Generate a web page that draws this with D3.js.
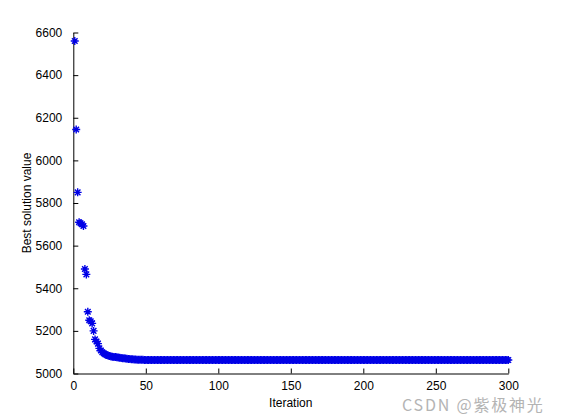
<!DOCTYPE html>
<html><head><meta charset="utf-8">
<script src="https://cdn.jsdelivr.net/npm/d3@7"></script>
<style>body{margin:0;background:#fff}svg{display:block}</style>
</head><body>
<svg id="c" width="561" height="420"></svg>
<script>
// Best solution value per iteration (1..300)
const headValues = [6560,6145,5850,5710,5705,5700,5692,5490,5465,5290,
  5250,5245,5235,5200,5160,5150,5140,5118,5108,5100,
  5095,5090,5087,5084,5082,5080,5079,5078,5077,5076,
  5075,5074,5073,5072,5071,5070,5069,5068,5068,5067,
  5067,5066,5066,5065,5065,5064,5064,5064,5063,5063];
const tailValues = [
  5063,5063,5063,5063,5063,5063,5063,5063,5063,5063,5063,5063,5063,5063,5063,5063,5063,5063,5063,5063,
  5063,5063,5063,5063,5063,5063,5063,5063,5063,5063,5063,5063,5063,5063,5063,5063,5063,5063,5063,5063,
  5063,5063,5063,5063,5063,5063,5063,5063,5063,5063,5063,5063,5063,5063,5063,5063,5063,5063,5063,5063,
  5063,5063,5063,5063,5063,5063,5063,5063,5063,5063,5063,5063,5063,5063,5063,5063,5063,5063,5063,5063,
  5063,5063,5063,5063,5063,5063,5063,5063,5063,5063,5063,5063,5063,5063,5063,5063,5063,5063,5063,5063,
  5063,5063,5063,5063,5063,5063,5063,5063,5063,5063,5063,5063,5063,5063,5063,5063,5063,5063,5063,5063,
  5063,5063,5063,5063,5063,5063,5063,5063,5063,5063,5063,5063,5063,5063,5063,5063,5063,5063,5063,5063,
  5063,5063,5063,5063,5063,5063,5063,5063,5063,5063,5063,5063,5063,5063,5063,5063,5063,5063,5063,5063,
  5063,5063,5063,5063,5063,5063,5063,5063,5063,5063,5063,5063,5063,5063,5063,5063,5063,5063,5063,5063,
  5063,5063,5063,5063,5063,5063,5063,5063,5063,5063,5063,5063,5063,5063,5063,5063,5063,5063,5063,5063,
  5063,5063,5063,5063,5063,5063,5063,5063,5063,5063,5063,5063,5063,5063,5063,5063,5063,5063,5063,5063,
  5063,5063,5063,5063,5063,5063,5063,5063,5063,5063,5063,5063,5063,5063,5063,5063,5063,5063,5063,5063,
  5063,5063,5063,5063,5063,5063,5063,5063,5063,5063,5063,5063,5063,5063,5063,5063,5063,5063,5063,5063];
const values = headValues.concat(tailValues).slice(0,300);
const xTicks = [0,50,100,150,200,250,300];
const yTicks = [5000,5200,5400,5600,5800,6000,6200,6400,6600];
const xLabel = "Iteration";
const yLabel = "Best solution value";
const watermark = "CSDN @紫极神光";

const svg = d3.select("#c");
const L = 73.3, R = 508.3, T = 32.5, B = 373.5;
const x = d3.scaleLinear().domain([0,300]).range([L,R]);
const y = d3.scaleLinear().domain([5000,6600]).range([B,T]);
const font = "'Liberation Sans', Arial, sans-serif";
const fmt = d3.format("d");

const xAxis = svg.append("g").attr("transform",`translate(0,${B})`)
  .call(d3.axisBottom(x).tickValues(xTicks).tickFormat(fmt).tickSizeInner(-5).tickSizeOuter(0).tickPadding(8));
const yAxis = svg.append("g").attr("transform",`translate(${L},0)`)
  .call(d3.axisLeft(y).tickValues(yTicks).tickFormat(fmt).tickSizeInner(-5).tickSizeOuter(0).tickPadding(11));
[xAxis,yAxis].forEach(a=>{
  a.selectAll("path.domain").attr("stroke","#000").attr("stroke-width",1);
  a.selectAll(".tick line").attr("stroke","#000");
  a.selectAll("text").attr("font-family",font).attr("font-size",12).attr("fill","#000");
});

// star markers (MATLAB '*')
const s = 4;
const star = `M${-s},0L${s},0M0,${-s}L0,${s}M${-s*0.7},${-s*0.7}L${s*0.7},${s*0.7}M${-s*0.7},${s*0.7}L${s*0.7},${-s*0.7}`;
svg.append("g").selectAll("path").data(values).join("path")
  .attr("transform",(d,i)=>`translate(${x(i+1)},${y(d)})`)
  .attr("d",star).attr("stroke","#0000e6").attr("stroke-width",1.4).attr("fill","none");

svg.append("text").attr("x",(L+R)/2).attr("y",407).attr("text-anchor","middle")
  .attr("font-family",font).attr("font-size",12).text(xLabel);
svg.append("text").attr("transform",`translate(31,203) rotate(-90)`).attr("text-anchor","middle")
  .attr("font-family",font).attr("font-size",12).text(yLabel);
svg.append("text").attr("x",402).attr("y",411).attr("text-anchor","start")
  .attr("font-family","'Noto Sans CJK SC', sans-serif").attr("font-size",16)
  .attr("letter-spacing",1.8)
  .attr("fill","#b4b4b4").text(watermark);
</script>
</body></html>
